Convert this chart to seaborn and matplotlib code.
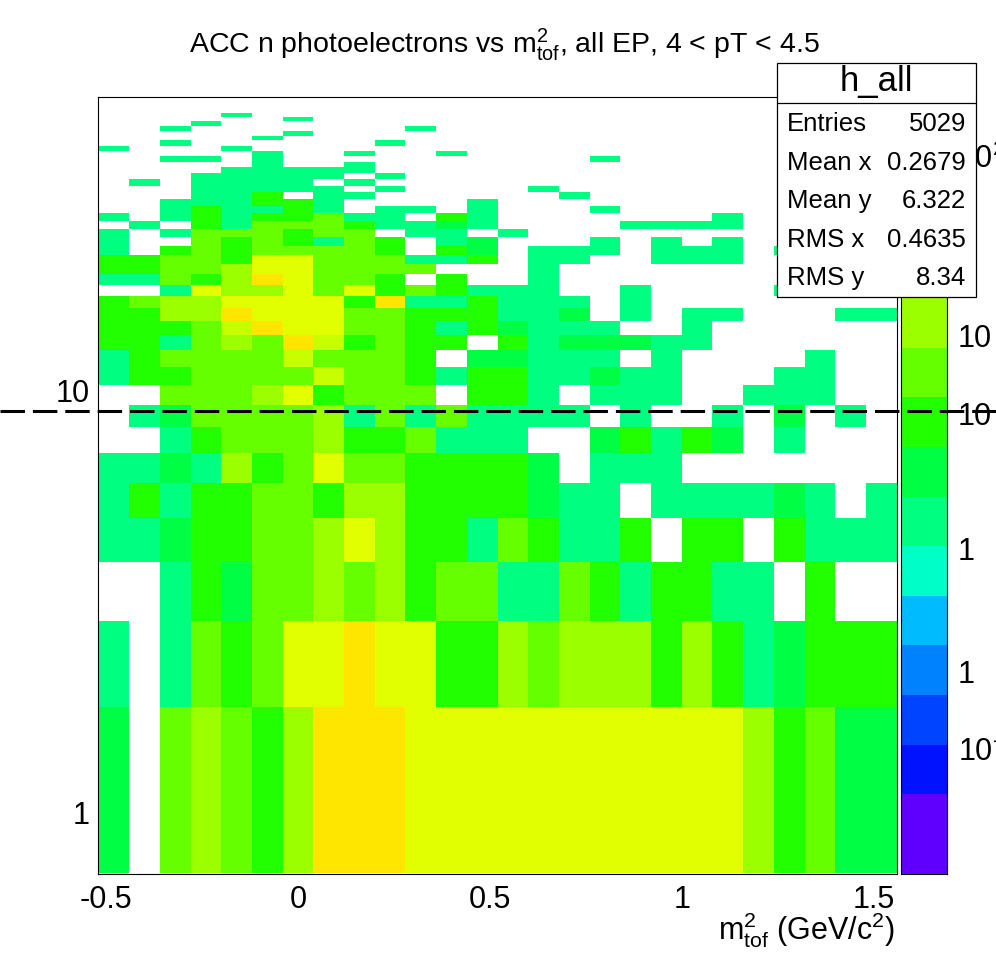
import numpy as np
import pandas as pd
import seaborn as sns
import matplotlib
matplotlib.use('Agg')
import matplotlib.pyplot as plt
from matplotlib.colors import ListedColormap, BoundaryNorm
from matplotlib.lines import Line2D
from matplotlib.patches import Rectangle
from matplotlib.transforms import blended_transform_factory

# binning of h_all (x: m2 tof, y: n photoelectrons)
x_lo, x_hi, nx = -0.52, 1.56, 26
y_lo, y_step, ny = 0.72, 1.067, 46

# bin contents, one list per y row (lowest row first), 26 x bins each
counts = [
    [2,0,5,7,5,3,7,27,27,27,17,17,17,17,17,17,17,17,17,17,17,7,3,5,2,2],
    [1,0,1,5,3,5,17,17,27,17,17,3,3,7,5,7,7,7,3,7,3,1,2,3,3,3],
    [0,0,1,3,2,5,5,7,5,7,3,5,5,1,1,5,3,1,3,3,1,1,0,3,0,0],
    [1,1,2,3,3,5,5,7,17,7,3,3,1,5,3,1,1,3,0,3,3,0,3,1,1,1],
    [1,3,1,3,3,5,5,3,7,7,3,3,3,3,2,1,1,0,1,1,1,1,2,1,0,1],
    [1,1,2,1,7,3,5,17,5,5,3,3,3,3,2,0,1,1,1,0,0,0,0,0,0,0],
    [0,0,1,3,5,5,5,7,3,3,5,1,1,1,0,0,2,3,1,3,2,0,1,0,0,0],
    [0,1,2,5,5,5,5,7,1,5,1,5,1,1,1,1,0,1,0,0,1,0,2,0,1,0],
    [0,0,5,5,5,7,17,3,5,5,5,0,3,3,1,0,1,1,1,0,0,1,1,1,0,0],
    [1,3,3,5,5,5,5,11,5,5,3,1,3,3,1,1,2,1,1,0,0,0,1,1,0,0],
    [1,3,5,5,5,5,11,5,5,5,3,0,2,2,1,1,1,0,1,0,0,0,0,1,0,0],
    [3,3,1,5,7,5,27,11,3,5,3,3,0,3,1,2,2,2,1,1,0,0,0,0,0,0],
    [3,3,3,5,11,27,17,17,5,5,3,1,3,2,1,1,1,0,0,1,0,0,0,0,0,0],
    [3,3,7,7,27,17,17,17,5,5,3,3,3,1,1,2,0,1,0,1,1,0,0,0,1,1],
    [3,5,7,7,17,17,17,17,3,27,1,1,3,1,1,1,0,1,0,0,0,0,0,0,0,0],
    [0,0,1,17,7,7,17,5,17,3,5,3,1,1,1,0,0,1,0,0,0,0,1,0,0,0],
    [1,1,5,3,7,27,17,5,5,3,0,3,0,0,1,0,0,0,0,0,0,0,0,0,0,0],
    [3,3,5,5,7,17,17,5,5,5,5,0,0,0,1,0,0,0,0,0,0,0,0,0,0,0],
    [3,3,5,5,3,17,17,5,5,5,1,1,3,0,1,1,0,0,1,1,1,0,0,0,0,0],
    [1,0,3,5,3,5,5,5,5,3,0,3,2,0,1,1,1,0,1,1,1,0,1,0,0,0],
    [1,0,0,5,3,5,3,1,5,3,0,1,2,0,0,0,1,0,1,0,1,0,0,0,0,0],
    [1,0,1,5,5,5,3,5,5,0,1,1,0,1,0,0,0,0,0,0,0,0,0,0,0,0],
    [0,1,0,3,1,5,5,5,3,1,1,2,1,0,0,0,0,1,1,1,1,0,0,0,0,0],
    [1,0,1,3,1,3,3,5,1,1,0,3,1,0,0,0,0,0,0,0,1,0,0,0,0,0],
    [0,0,1,3,1,1,3,1,0,1,1,0,1,0,0,0,1,0,0,0,0,0,0,0,0,0],
    [0,0,1,1,1,3,3,1,0,0,0,0,1,0,0,0,0,0,0,0,0,0,0,0,0,0],
    [0,0,0,1,1,3,0,1,1,0,0,0,0,0,0,1,0,0,0,0,0,0,0,0,0,0],
    [0,0,0,1,1,1,1,1,0,1,0,0,0,0,1,0,0,0,0,0,0,0,0,0,0,0],
    [0,1,0,1,1,1,1,0,1,0,0,0,0,0,0,0,0,0,0,0,0,0,0,0,0,0],
    [0,0,0,1,1,1,1,1,0,1,0,0,0,0,0,0,0,0,0,0,0,0,0,0,0,0],
    [0,0,0,0,1,1,1,1,1,0,0,0,0,0,0,0,0,0,0,0,0,0,0,0,0,0],
    [0,0,0,0,0,1,0,0,1,0,0,0,0,0,0,0,0,0,0,0,0,0,0,0,0,0],
    [0,0,1,1,0,1,0,0,0,0,0,0,0,0,0,0,1,0,0,0,0,0,0,0,0,0],
    [0,0,0,0,0,1,0,0,1,0,0,1,0,0,0,0,0,0,0,0,0,0,0,0,0,0],
    [1,0,0,0,1,0,0,0,0,0,0,0,0,0,0,0,0,0,0,0,0,0,0,0,0,0],
    [0,0,1,0,0,0,0,0,0,1,0,0,0,0,0,0,0,0,0,0,0,0,0,0,0,0],
    [0,0,0,0,0,1,0,0,0,0,0,0,0,0,0,0,0,0,0,0,0,0,0,0,0,0],
    [0,0,0,0,0,0,1,0,0,0,0,0,0,0,0,0,0,0,0,0,0,0,0,0,0,0],
    [0,0,1,0,0,0,0,0,0,0,1,0,0,0,0,0,0,0,0,0,0,0,0,0,0,0],
    [0,0,0,1,0,0,0,0,0,0,0,0,0,0,0,0,0,0,0,0,0,0,0,0,0,0],
    [0,0,0,0,0,0,1,0,0,0,0,0,0,0,0,0,0,0,0,0,0,0,0,0,0,0],
    [0,0,0,0,1,0,0,0,0,0,0,0,0,0,0,0,0,0,0,0,0,0,0,0,0,0],
    [0]*26,
    [0]*26,
    [0]*26,
    [0]*26,
]

stat_names = ['Entries', 'Mean x', 'Mean y', 'RMS x', 'RMS y']
stat_values = ['5029', '0.2679', '6.322', '0.4635', '8.34']

x_ticks = [-0.5, 0, 0.5, 1, 1.5]
x_ticklabels = ['-0.5', '0', '0.5', '1', '1.5']
y_ticks = [1, 10]
y_ticklabels = ['1', '10']

# palette bands of the z axis (bottom to top)
band_colors = ['#5f00ff', '#0012ff', '#0044ff', '#0082ff', '#00bcff', '#00ffc8',
               '#00ff80', '#00ff44', '#22ff00', '#66ff00', '#9cff00', '#c8ff00',
               '#e2ff00', '#ffe600', '#ffb000', '#ff7000']
z_min, z_max = 0.052, 53.4
level_one = 0.97     # lower edge of the band that holds a single entry
level_ratio = 1.5568

# z axis labels as they show up (cut by the canvas edge)
cb_unit = 0.307
cb_label_at = [0.5, 1, 3, 10, 20, 100]
cb_labels = ['10$^{-1}$', '1', '1', '10', '10', '10$^{2}$']

cut_npe = 8.93

sns.set_style('white')
plt.rcParams['font.family'] = ['Liberation Sans', 'DejaVu Sans']
plt.rcParams['text.color'] = 'black'
plt.rcParams['mathtext.fontset'] = 'custom'
plt.rcParams['mathtext.rm'] = 'Liberation Sans'
plt.rcParams['mathtext.it'] = 'Liberation Sans'
plt.rcParams['mathtext.bf'] = 'Liberation Sans'

W, H = 996, 972
fig = plt.figure(figsize=(W / 100, H / 100), dpi=100)

def fx(px):
    return px / W

def fy(py):
    return 1 - py / H

ax = fig.add_axes([fx(98.4), fy(874), fx(896.7) - fx(98.4), fy(97) - fy(874)])
cax = fig.add_axes([fx(901), fy(874), fx(946.5) - fx(901), fy(97) - fy(874)])

x_edges = np.linspace(x_lo, x_hi, nx + 1)
y_edges = y_lo + y_step * np.arange(ny + 1)
xc = 0.5 * (x_edges[:-1] + x_edges[1:])
yc = 0.5 * (y_edges[:-1] + y_edges[1:])
grid = np.array(counts)
df = pd.DataFrame({'m2': np.tile(xc, ny), 'npe': np.repeat(yc, nx), 'n': grid.ravel()})
df = df[df.n > 0]

levels = [z_min] + [level_one * level_ratio ** (k - 6) for k in range(1, 16)] + [z_max]
cmap = ListedColormap(band_colors)
norm = BoundaryNorm(levels, ncolors=len(band_colors))

sns.histplot(data=df, x='m2', y='npe', weights='n', bins=[x_edges, y_edges],
             cmap=cmap, ax=ax)
mesh = ax.collections[0]
mesh.set_norm(norm)
mesh.set_cmap(cmap)

ax.set_yscale('log')
ax.set_xlim(x_lo, x_hi)
ax.set_ylim(0.717, 49.6)
ax.set_xlabel('')
ax.set_ylabel('')
ax.set_xticks(x_ticks)
ax.set_xticklabels(x_ticklabels)
ax.set_xticks(np.arange(-0.5, 1.55, 0.1), minor=True)
ax.set_yticks(y_ticks)
ax.set_yticklabels(y_ticklabels)
ax.set_yticks([0.8, 0.9, 2, 3, 4, 5, 6, 7, 8, 9, 20, 30, 40], minor=True)
ax.yaxis.set_minor_formatter(plt.NullFormatter())
ax.tick_params(which='both', direction='in', colors='black', width=0.8,
               labelsize=22, top=False, right=False)
ax.tick_params(axis='x', which='major', length=17.5, pad=8)
ax.tick_params(axis='x', which='minor', length=8.6)
ax.tick_params(axis='y', which='major', length=18, pad=6)
ax.tick_params(axis='y', which='minor', length=8.6)
for s in ax.spines.values():
    s.set_color('black')
    s.set_linewidth(0.8)
ax.grid(False)

# colour scale
cax.set_yscale('log')
cax.set_ylim(z_min, z_max)
cax.set_xlim(0, 1)
for k, c in enumerate(band_colors):
    cax.axhspan(levels[k], levels[k + 1], facecolor=c, lw=0)
cax.set_xticks([])
cax.yaxis.tick_right()
cax.set_yticks([cb_unit, 10 * cb_unit])
cax.set_yticklabels([])
minor_cb = [m * cb_unit for m in [0.2, 0.3, 0.4, 0.5, 0.6, 0.7, 0.8, 0.9,
                                  2, 3, 4, 5, 6, 7, 8, 9, 20, 30, 40, 50, 60, 70, 80, 90]]
cax.set_yticks(minor_cb, minor=True)
cax.yaxis.set_minor_formatter(plt.NullFormatter())
cax.tick_params(which='both', direction='in', colors='black', width=0.8, right=True, left=False)
cax.tick_params(which='major', length=19)
cax.tick_params(which='minor', length=8.6)
for s in cax.spines.values():
    s.set_color('black')
    s.set_linewidth(0.8)
tr = blended_transform_factory(cax.transAxes, cax.transData)
for v, lab in zip(cb_label_at, cb_labels):
    cax.text(1.25, v * cb_unit, lab, transform=tr, ha='left', va='center', fontsize=22)

# cut line
yline = fig.transFigure.inverted().transform(ax.transData.transform((0, cut_npe)))[1]
fig.add_artist(Line2D([0, 1], [yline, yline], transform=fig.transFigure, color='black',
                      lw=2.2, dashes=(8, 2.6), zorder=5))

# title and axis label
fig.text(fx(504), fy(53), r'ACC n photoelectrons vs m$^{2}_{\mathrm{tof}}$, all EP, 4 < pT < 4.5',
         ha='center', va='baseline', fontsize=20.5)
fig.text(fx(895), fy(939), r'm$^{2}_{\mathrm{tof}}$ (GeV/c$^{2}$)', ha='right', va='baseline',
         fontsize=22)

# stats box
box = Rectangle((fx(777), fy(297)), fx(976) - fx(777), fy(63) - fy(297), transform=fig.transFigure,
                facecolor='white', edgecolor='black', lw=0.9, zorder=8)
fig.add_artist(box)
fig.add_artist(Line2D([fx(777), fx(976)], [fy(102.5), fy(102.5)], transform=fig.transFigure,
                      color='black', lw=0.9, zorder=9))
fig.text(fx(876.5), fy(91), 'h_all', ha='center', va='baseline', fontsize=25, zorder=10)
for i, (name, val) in enumerate(zip(stat_names, stat_values)):
    yb = fy(131 + 38.6 * i)
    fig.text(fx(787), yb, name, ha='left', va='baseline', fontsize=18.5, zorder=10)
    fig.text(fx(966), yb, val, ha='right', va='baseline', fontsize=18.5, zorder=10)

fig.savefig('out.png', dpi=100)
